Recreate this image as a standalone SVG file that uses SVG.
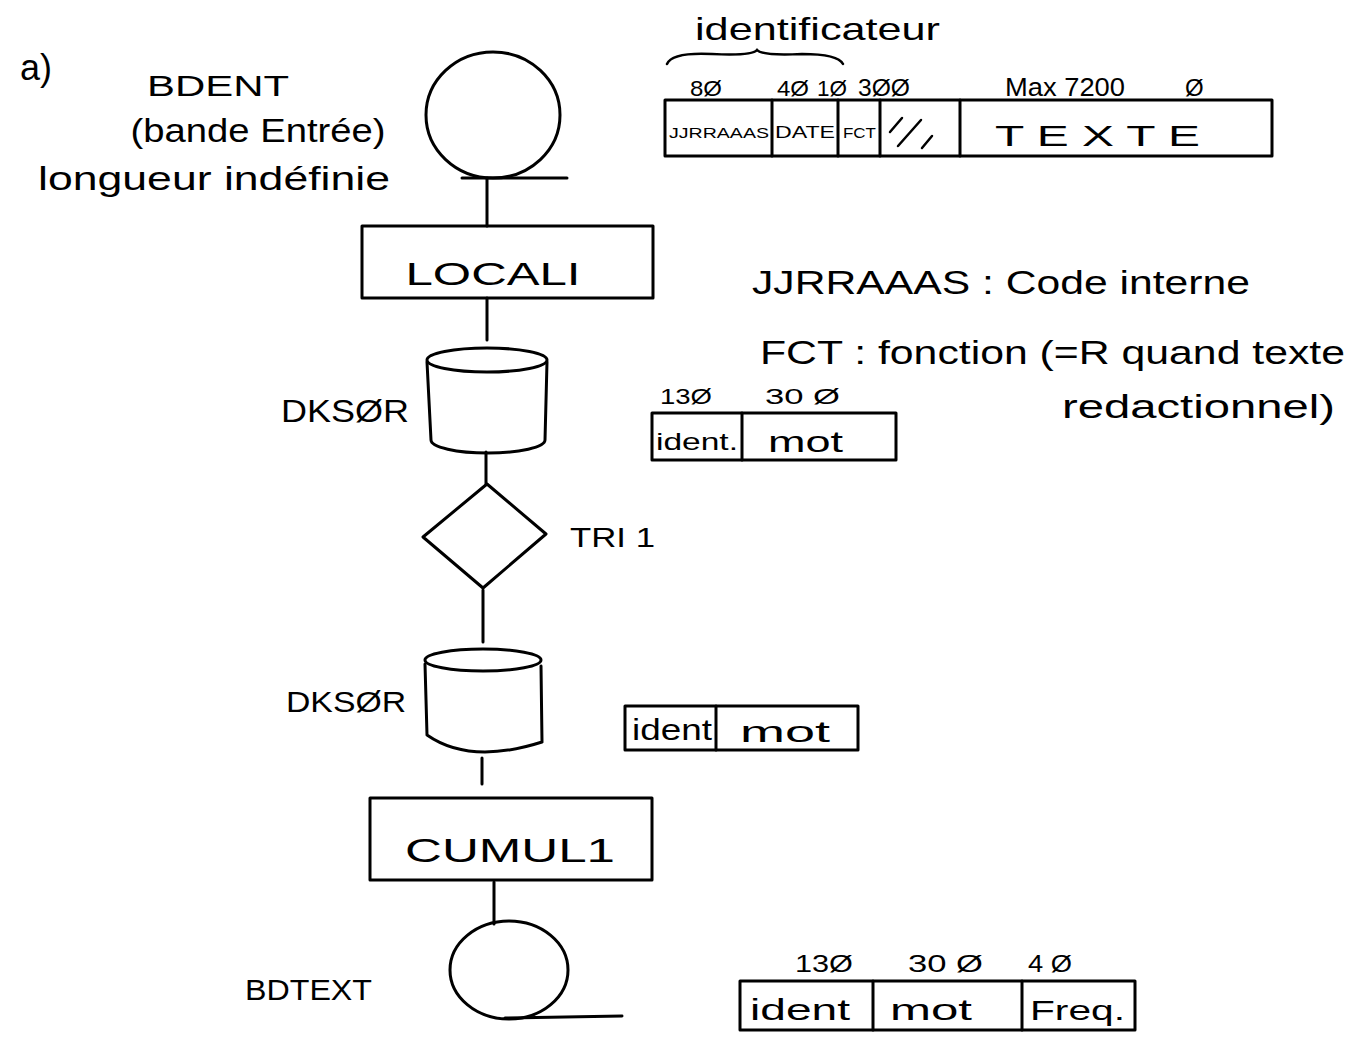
<svg xmlns="http://www.w3.org/2000/svg" width="1359" height="1038" viewBox="0 0 1359 1038">
<style>
.s{fill:none;stroke:#000;stroke-width:3;stroke-linecap:round;stroke-linejoin:round}
.t{font-family:"Liberation Sans","DejaVu Sans",sans-serif;fill:#000}
.thin{fill:none;stroke:#000;stroke-width:2.5;stroke-linecap:round}
</style>
<rect width="1359" height="1038" fill="#fff"/>

<g id="connectors" class="s">
<line x1="487" y1="178" x2="487" y2="226"/>
<line x1="487" y1="298" x2="487" y2="340"/>
<line x1="486" y1="452" x2="486" y2="484"/>
<line x1="483" y1="590" x2="483" y2="642"/>
<line x1="482" y1="758" x2="482" y2="784"/>
<line x1="494" y1="882" x2="494" y2="924"/>
</g>

<g id="label-a"><text class="t" x="20" y="80" font-size="36">a)</text></g>

<g id="bdent-label">
<text class="t" x="218" y="96" font-size="30" text-anchor="middle" textLength="142" lengthAdjust="spacingAndGlyphs">BDENT</text>
<text class="t" x="258" y="142" font-size="34" text-anchor="middle" textLength="255" lengthAdjust="spacingAndGlyphs">(bande Entrée)</text>
<text class="t" x="214" y="190" font-size="34" text-anchor="middle" textLength="352" lengthAdjust="spacingAndGlyphs">longueur indéfinie</text>
</g>

<g id="node-bdent" class="s">
<ellipse cx="493" cy="115" rx="67" ry="63"/>
<line x1="462" y1="178" x2="567" y2="178"/>
</g>

<g id="node-locali">
<rect class="s" x="362" y="226" width="291" height="72"/>
<text class="t" x="493" y="285" font-size="32" text-anchor="middle" textLength="175" lengthAdjust="spacingAndGlyphs">LOCALI</text>
</g>

<g id="node-dksor1">
<ellipse class="s" cx="487" cy="360" rx="60" ry="12"/>
<path class="s" d="M427 362 L431 440 M547 362 L545 440 M431 440 A57 13 0 0 0 545 440"/>
<text class="t" x="281" y="422" font-size="32" textLength="128" lengthAdjust="spacingAndGlyphs">DKSØR</text>
</g>

<g id="node-tri1">
<path class="s" d="M487 484 L546 534 L483 588 L423 537 Z"/>
<text class="t" x="570" y="547" font-size="28" textLength="85" lengthAdjust="spacingAndGlyphs">TRI 1</text>
</g>

<g id="node-dksor2">
<ellipse class="s" cx="483" cy="660" rx="58" ry="11"/>
<path class="s" d="M425 664 L427 735 M541 666 L542 742 M427 735 Q470 765 542 742"/>
<text class="t" x="286" y="712" font-size="30" textLength="120" lengthAdjust="spacingAndGlyphs">DKSØR</text>
</g>

<g id="node-cumul1">
<rect class="s" x="370" y="798" width="282" height="82"/>
<text class="t" x="510" y="862" font-size="34" text-anchor="middle" textLength="210" lengthAdjust="spacingAndGlyphs">CUMUL1</text>
</g>

<g id="node-bdtext">
<ellipse class="s" cx="509" cy="970" rx="59" ry="49"/>
<line class="s" x1="505" y1="1018" x2="622" y2="1016"/>
<text class="t" x="245" y="1000" font-size="30" textLength="127" lengthAdjust="spacingAndGlyphs">BDTEXT</text>
</g>

<g id="record-bdent">
<text class="t" x="695" y="40" font-size="32" textLength="245" lengthAdjust="spacingAndGlyphs">identificateur</text>
<path class="thin" d="M667 64 Q672 52 712 54 Q752 56 757 50 Q762 56 802 54 Q838 54 843 64"/>
<text class="t" x="690" y="96" font-size="22" textLength="32" lengthAdjust="spacingAndGlyphs">8Ø</text>
<text class="t" x="777" y="96" font-size="22" textLength="32" lengthAdjust="spacingAndGlyphs">4Ø</text>
<text class="t" x="817" y="96" font-size="22" textLength="30" lengthAdjust="spacingAndGlyphs">1Ø</text>
<text class="t" x="858" y="96" font-size="24" textLength="52" lengthAdjust="spacingAndGlyphs">3ØØ</text>
<text class="t" x="1005" y="96" font-size="26" textLength="120" lengthAdjust="spacingAndGlyphs">Max 7200</text>
<text class="t" x="1185" y="96" font-size="24">Ø</text>
<rect class="s" x="665" y="100" width="607" height="56"/>
<line class="s" x1="772" y1="100" x2="772" y2="156"/>
<line class="s" x1="838" y1="100" x2="838" y2="156"/>
<line class="s" x1="880" y1="100" x2="880" y2="156"/>
<line class="s" x1="960" y1="100" x2="960" y2="156"/>
<text class="t" x="669" y="138" font-size="15" textLength="100" lengthAdjust="spacingAndGlyphs">JJRRAAAS</text>
<text class="t" x="775" y="138" font-size="17" textLength="60" lengthAdjust="spacingAndGlyphs">DATE</text>
<text class="t" x="843" y="138" font-size="15" textLength="33" lengthAdjust="spacingAndGlyphs">FCT</text>
<path class="thin" d="M902 118 L890 132 M921 120 L898 146 M932 136 L922 148"/>
<text class="t" x="995" y="146" font-size="30" textLength="205" lengthAdjust="spacingAndGlyphs">T E X T E</text>
</g>

<g id="legend">
<text class="t" x="752" y="294" font-size="34" textLength="498" lengthAdjust="spacingAndGlyphs">JJRRAAAS : Code interne</text>
<text class="t" x="760" y="364" font-size="34" textLength="585" lengthAdjust="spacingAndGlyphs">FCT : fonction (=R quand texte</text>
<text class="t" x="1062" y="418" font-size="34" textLength="273" lengthAdjust="spacingAndGlyphs">redactionnel)</text>
</g>

<g id="record-dksor1">
<text class="t" x="660" y="404" font-size="22" textLength="52" lengthAdjust="spacingAndGlyphs">13Ø</text>
<text class="t" x="765" y="404" font-size="22" textLength="75" lengthAdjust="spacingAndGlyphs">30 Ø</text>
<rect class="s" x="652" y="413" width="244" height="47"/>
<line class="s" x1="742" y1="413" x2="742" y2="460"/>
<text class="t" x="656" y="450" font-size="24" textLength="82" lengthAdjust="spacingAndGlyphs">ident.</text>
<text class="t" x="768" y="452" font-size="30" textLength="75" lengthAdjust="spacingAndGlyphs">mot</text>
</g>

<g id="record-dksor2">
<rect class="s" x="625" y="706" width="233" height="44"/>
<line class="s" x1="716" y1="706" x2="716" y2="750"/>
<text class="t" x="632" y="740" font-size="30" textLength="80" lengthAdjust="spacingAndGlyphs">ident</text>
<text class="t" x="740" y="742" font-size="30" textLength="90" lengthAdjust="spacingAndGlyphs">mot</text>
</g>

<g id="record-bdtext">
<text class="t" x="795" y="972" font-size="24" textLength="58" lengthAdjust="spacingAndGlyphs">13Ø</text>
<text class="t" x="908" y="972" font-size="24" textLength="75" lengthAdjust="spacingAndGlyphs">30 Ø</text>
<text class="t" x="1028" y="972" font-size="24" textLength="44" lengthAdjust="spacingAndGlyphs">4 Ø</text>
<rect class="s" x="740" y="981" width="395" height="49"/>
<line class="s" x1="873" y1="981" x2="873" y2="1030"/>
<line class="s" x1="1022" y1="981" x2="1022" y2="1030"/>
<text class="t" x="750" y="1020" font-size="30" textLength="100" lengthAdjust="spacingAndGlyphs">ident</text>
<text class="t" x="890" y="1020" font-size="30" textLength="82" lengthAdjust="spacingAndGlyphs">mot</text>
<text class="t" x="1030" y="1020" font-size="28" textLength="95" lengthAdjust="spacingAndGlyphs">Freq.</text>
</g>
</svg>
